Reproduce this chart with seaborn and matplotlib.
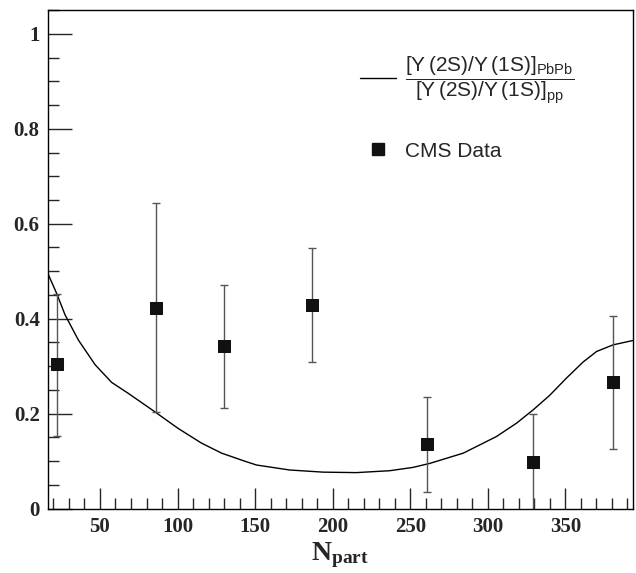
import numpy as np
import pandas as pd
import matplotlib
matplotlib.use("Agg")
import matplotlib.pyplot as plt
import seaborn as sns
from matplotlib.lines import Line2D
from matplotlib.ticker import MultipleLocator

# datos CMS
npart = [22, 86, 130, 187, 261, 329, 381]
ratio = [0.304, 0.422, 0.342, 0.429, 0.136, 0.099, 0.266]
err_up = [0.149, 0.221, 0.130, 0.119, 0.099, 0.100, 0.140]
err_down = [0.150, 0.219, 0.129, 0.120, 0.100, 0.120, 0.140]

# curva del modelo
curve_x = [16.3, 22.1, 27.5, 36.1, 46.9, 57.5, 68.2, 85.4, 100.4, 115.5, 128.4,
           143.4, 150.9, 172.3, 193.8, 215.3, 236.8, 251.8, 262.7, 284.2, 305.6,
           318.5, 329.2, 340.0, 350.7, 361.5, 370.1, 380.8, 393.3]
curve_y = [0.496, 0.453, 0.408, 0.355, 0.303, 0.266, 0.243, 0.204, 0.169, 0.138,
           0.117, 0.100, 0.092, 0.0815, 0.077, 0.076, 0.080, 0.087, 0.0955, 0.117,
           0.152, 0.180, 0.208, 0.239, 0.275, 0.309, 0.331, 0.345, 0.354]

sns.set_style("ticks")
plt.rcParams['font.family'] = ['Liberation Serif', 'DejaVu Serif']
plt.rcParams['mathtext.fontset'] = 'custom'
plt.rcParams['mathtext.rm'] = 'Liberation Sans'
plt.rcParams['mathtext.bf'] = 'Liberation Serif:bold'

fig = plt.figure(figsize=(6.36, 5.73), dpi=100)
ax = fig.add_axes([0.0755, 0.1122, 0.9195, 0.8703])

df_curve = pd.DataFrame({'x': curve_x, 'y': curve_y})
sns.lineplot(data=df_curve, x='x', y='y', ax=ax, color='black', linewidth=1)

ax.errorbar(npart, ratio, yerr=[err_down, err_up], fmt='none', ecolor='#555555',
            elinewidth=1, capsize=3, capthick=1)
df_data = pd.DataFrame({'npart': npart, 'ratio': ratio})
sns.scatterplot(data=df_data, x='npart', y='ratio', ax=ax, marker='s', s=85,
                color='#111111', edgecolor='#111111', zorder=5)

ax.set_xlim(16.5, 393.5)
ax.set_ylim(0, 1.05)
ax.xaxis.set_major_locator(MultipleLocator(50))
ax.xaxis.set_minor_locator(MultipleLocator(10))
ax.yaxis.set_major_locator(MultipleLocator(0.2))
ax.yaxis.set_minor_locator(MultipleLocator(0.05))
ax.tick_params(which='major', direction='in', length=15, width=1, labelsize=15, pad=6)
ax.tick_params(which='minor', direction='in', length=8, width=1)
ax.tick_params(axis='y', which='major', length=17)
ax.set_yticks([0, 0.2, 0.4, 0.6, 0.8, 1.0])
ax.set_yticklabels(['0', '0.2', '0.4', '0.6', '0.8', '1'])
for lab in ax.get_xticklabels() + ax.get_yticklabels():
    lab.set_fontweight('bold')
for sp in ax.spines.values():
    sp.set_linewidth(1)
    sp.set_color('black')

ax.set_xlabel(r'$\mathbf{N_{part}}$', fontsize=20, labelpad=2)
ax.set_ylabel('')

handles = [Line2D([], [], color='black', linewidth=1),
           Line2D([], [], color='#111111', marker='s', linestyle='none', markersize=8)]
labels = [r'$\dfrac{[\Upsilon\,(2\mathrm{S})/\Upsilon\,(1\mathrm{S})]_{\mathrm{PbPb}}}'
          r'{[\Upsilon\,(2\mathrm{S})/\Upsilon\,(1\mathrm{S})]_{\mathrm{pp}}}$',
          'CMS Data']
leg = ax.legend(handles, labels, loc='upper left', bbox_to_anchor=(360 / 636, 1 - 55 / 573),
                bbox_transform=fig.transFigure, borderpad=0, borderaxespad=0,
                frameon=False, prop={'family': 'Liberation Sans', 'size': 15},
                handlelength=1.75, handletextpad=0.4, labelspacing=1.7)

plt.savefig('out.png', dpi=100)
